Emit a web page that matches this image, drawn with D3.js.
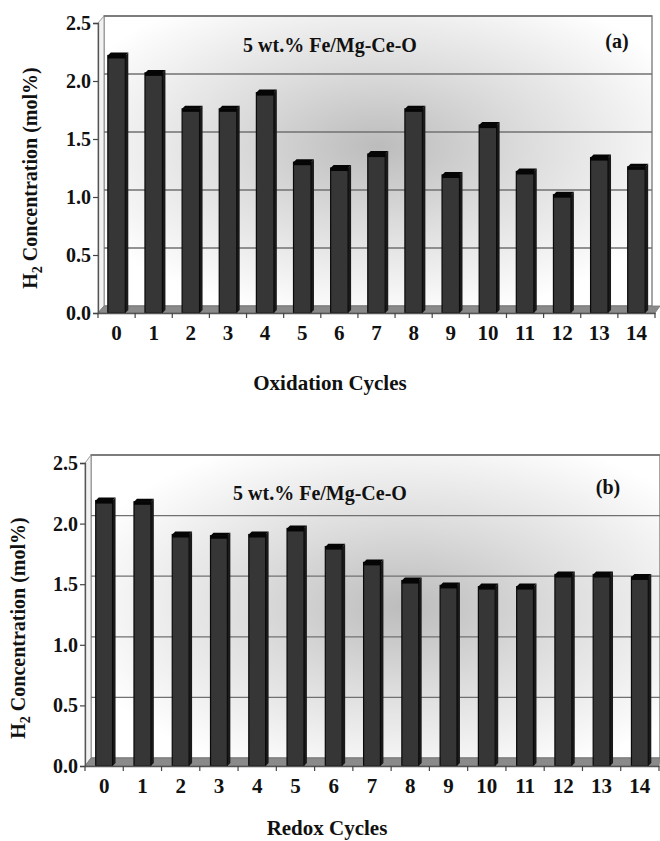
<!DOCTYPE html>
<html lang="en">
<head>
<meta charset="utf-8">
<title>H2 concentration cycles</title>
<script src="https://cdn.jsdelivr.net/npm/d3@7/dist/d3.min.js" charset="utf-8"></script>
<style>
  body { margin: 0; background: #fff; }
  text { font-family: "Liberation Serif", "Times New Roman", serif; font-weight: bold; fill: #111; }
</style>
</head>
<body>
<script type="text/javascript">

var width = 660;
var height = 841;

// data
var cycles = ["0", "1", "2", "3", "4", "5", "6", "7", "8", "9", "10", "11", "12", "13", "14"];
var oxidationValues = [2.22, 2.07, 1.76, 1.76, 1.90, 1.30, 1.25, 1.37, 1.76, 1.19, 1.62, 1.22, 1.02, 1.34, 1.26];
var redoxValues = [2.19, 2.18, 1.91, 1.90, 1.91, 1.96, 1.81, 1.68, 1.53, 1.49, 1.48, 1.48, 1.58, 1.58, 1.56];
var yTicks = [0, 0.5, 1.0, 1.5, 2.0, 2.5];
var sampleLabel = "5 wt.% Fe/Mg-Ce-O";

var svg = d3.select("body").append("svg")
            .attr("width", width)
            .attr("height", height);

var defs = svg.append("defs");

function drawPanel(p) {
  var g = svg.append("g");

  var x = d3.scaleBand()
            .domain(cycles)
            .range([p.x0, p.x1])
            .paddingInner(0)
            .paddingOuter(0);

  var y = d3.scaleLinear()
            .domain([0, 2.5])
            .range([p.yZero, p.yTop]);

  // back wall with soft shading
  var grad = defs.append("radialGradient")
                 .attr("id", "shade" + p.id)
                 .attr("cx", p.gcx).attr("cy", p.gcy)
                 .attr("r", "0.6");
  grad.append("stop").attr("offset", "0").attr("stop-color", "#bcbcbc");
  grad.append("stop").attr("offset", "0.45").attr("stop-color", "#dcdcdc");
  grad.append("stop").attr("offset", "1").attr("stop-color", "#ffffff");

  var wallL = p.x0 + p.dx, wallR = p.wallRight;
  var wallT = y(2.5) + p.dy, wallB = y(0) + p.dy;

  g.append("rect")
   .attr("x", wallL).attr("y", wallT)
   .attr("width", wallR - wallL).attr("height", wallB - wallT)
   .attr("fill", "url(#shade" + p.id + ")")
   .attr("stroke", "#888").attr("stroke-width", 1.5);

  // left wall edge
  g.append("polygon")
   .attr("points", [[p.x0, y(0)], [wallL, wallB], [wallL, wallT], [p.x0, y(2.5)]].join(" "))
   .attr("fill", "#f2f2f2")
   .attr("stroke", "#999").attr("stroke-width", 1);

  // gridlines on back wall
  g.selectAll(".grid")
   .data(yTicks.filter(function(d) { return d > 0; }))
   .enter().append("line")
   .attr("x1", wallL).attr("x2", wallR)
   .attr("y1", function(d) { return y(d) + p.dy; })
   .attr("y2", function(d) { return y(d) + p.dy; })
   .attr("stroke", "#707070").attr("stroke-width", 1.3);

  // floor
  g.append("polygon")
   .attr("points", [[p.x0, y(0)], [p.x1, y(0)], [Math.min(p.x1 + p.dx, 660), wallB], [wallL, wallB]].join(" "))
   .attr("fill", "#8a8a8a")
   .attr("stroke", "#777").attr("stroke-width", 0.8);

  // bars (3D look: front face + top cap + side)
  var bw = x.bandwidth() * p.barFrac;
  var d3x = 3, d3y = -3;
  var bars = g.selectAll(".bar")
              .data(p.values)
              .enter().append("g");

  bars.append("polygon")
      .attr("points", function(d, i) {
        var bx = x(cycles[i]) + (x.bandwidth() - bw) / 2 + bw;
        return [[bx, y(d)], [bx + d3x, y(d) + d3y], [bx + d3x, y(0) + d3y], [bx, y(0)]].join(" ");
      })
      .attr("fill", "#1a1a1a");

  bars.append("rect")
      .attr("x", function(d, i) { return x(cycles[i]) + (x.bandwidth() - bw) / 2; })
      .attr("y", function(d) { return y(d); })
      .attr("width", bw)
      .attr("height", function(d) { return y(0) - y(d); })
      .attr("fill", "#363636")
      .attr("stroke", "#0a0a0a").attr("stroke-width", 1.2);

  bars.append("polygon")
      .attr("points", function(d, i) {
        var bx = x(cycles[i]) + (x.bandwidth() - bw) / 2;
        return [[bx, y(d)], [bx + d3x, y(d) + d3y], [bx + bw + d3x, y(d) + d3y], [bx + bw, y(d)]].join(" ");
      })
      .attr("fill", "#050505");

  bars.append("rect")
      .attr("x", function(d, i) { return x(cycles[i]) + (x.bandwidth() - bw) / 2; })
      .attr("y", function(d) { return y(d); })
      .attr("width", bw).attr("height", 3)
      .attr("fill", "#050505");

  // y axis
  var yAxis = d3.axisLeft(y)
                .tickValues(yTicks)
                .tickFormat(d3.format(".1f"))
                .tickSize(5)
                .tickPadding(2);
  var ya = g.append("g")
            .attr("transform", "translate(" + p.x0 + ",0)")
            .call(yAxis);
  ya.select(".domain").attr("stroke", "#555").attr("stroke-width", 1.3);
  ya.selectAll(".tick line").attr("stroke", "#444").attr("stroke-width", 1.2);
  ya.selectAll(".tick text")
    .attr("font-size", 20)
    .attr("font-family", "Liberation Serif, serif")
    .attr("font-weight", "bold")
    .attr("fill", "#111");

  // x axis
  var xAxis = d3.axisBottom(x).tickSize(0).tickPadding(12);
  var xa = g.append("g")
            .attr("transform", "translate(0," + y(0) + ")")
            .call(xAxis);
  xa.select(".domain").attr("stroke", "#555").attr("stroke-width", 1.3);
  xa.selectAll(".tick text")
    .attr("font-size", 21)
    .attr("font-family", "Liberation Serif, serif")
    .attr("font-weight", "bold")
    .attr("fill", "#111");

  // x tick marks at category boundaries
  g.selectAll(".xtick")
   .data(cycles.concat(["end"]))
   .enter().append("line")
   .attr("x1", function(d, i) { return p.x0 + i * x.step(); })
   .attr("x2", function(d, i) { return p.x0 + i * x.step(); })
   .attr("y1", y(0)).attr("y2", y(0) + 5)
   .attr("stroke", "#444").attr("stroke-width", 1.2);

  // labels
  g.append("text")
   .attr("x", p.labelX).attr("y", p.labelY)
   .attr("text-anchor", "middle")
   .attr("font-size", 20)
   .text(sampleLabel);

  g.append("text")
   .attr("x", p.tagX).attr("y", p.tagY)
   .attr("text-anchor", "middle")
   .attr("font-size", 20)
   .text(p.tag);

  var yt = g.append("text")
            .attr("transform", "translate(" + p.yTitleX + "," + p.yTitleY + ") rotate(-90)")
            .attr("text-anchor", "middle")
            .attr("font-size", 20);
  yt.append("tspan").text("H");
  yt.append("tspan").attr("font-size", 14).attr("dy", 5).text("2");
  yt.append("tspan").attr("dy", -5).text(" Concentration (mol%)");

  g.append("text")
   .attr("x", p.xTitleX).attr("y", p.xTitleY)
   .attr("text-anchor", "middle")
   .attr("font-size", 21)
   .text(p.xTitle);
}

drawPanel({
  id: "a", values: oxidationValues, tag: "(a)", xTitle: "Oxidation Cycles",
  x0: 98, x1: 655, yZero: 313, yTop: 23, dx: 6, dy: -7, wallRight: 652,
  barFrac: 0.47, gcx: "0.5", gcy: "0.45",
  labelX: 330, labelY: 52, tagX: 617, tagY: 48,
  yTitleX: 37, yTitleY: 178, xTitleX: 330, xTitleY: 390
});

drawPanel({
  id: "b", values: redoxValues, tag: "(b)", xTitle: "Redox Cycles",
  x0: 85, x1: 659, yZero: 766, yTop: 463, dx: 6, dy: -8, wallRight: 660,
  barFrac: 0.44, gcx: "0.55", gcy: "0.5",
  labelX: 320, labelY: 500, tagX: 608, tagY: 494,
  yTitleX: 25, yTitleY: 628, xTitleX: 327, xTitleY: 835
});

</script>
</body>
</html>
